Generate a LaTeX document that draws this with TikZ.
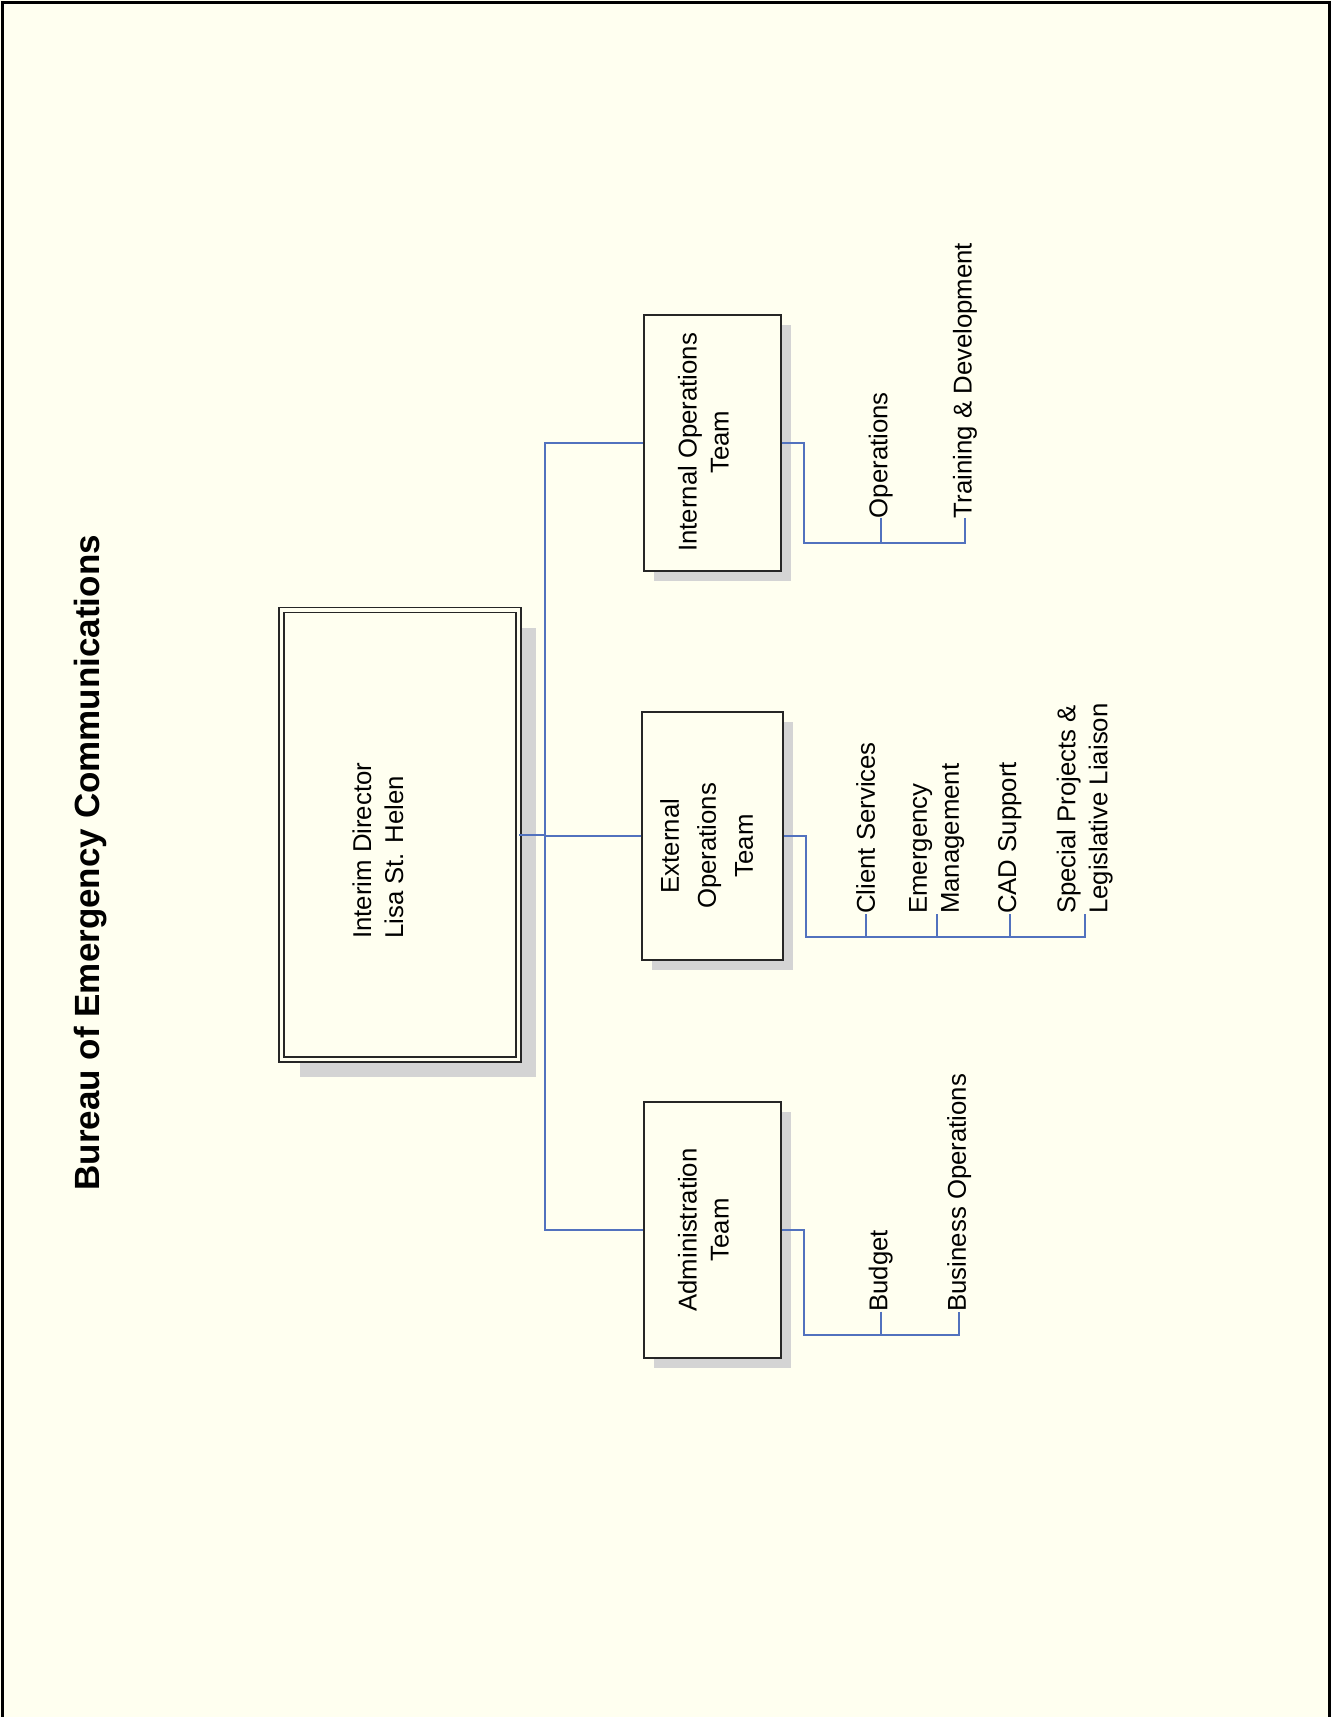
\documentclass[tikz,border=0pt]{standalone}
\usepackage{fontspec}
\setmainfont{Liberation Sans}
\usetikzlibrary{shadows,calc}
\definecolor{paper}{RGB}{255,255,240}
\definecolor{shade}{RGB}{212,212,212}
\definecolor{linkblue}{RGB}{82,114,190}

\begin{document}
\begin{tikzpicture}[
    x=1pt, y=-1pt,
    team/.style={draw=black!85, fill=paper, line width=1.8pt, inner sep=0pt,
      minimum width=136.7pt, minimum height=256pt,
      drop shadow={shadow xshift=10pt, shadow yshift=-10pt, fill=shade, opacity=1}},
    head/.style={draw=black!85, fill=paper, line width=1.6pt, double=paper, double distance=3.6pt,
      inner sep=0pt, minimum width=236.7pt, minimum height=449.4pt,
      drop shadow={shadow xshift=18pt, shadow yshift=-18pt, fill=shade, opacity=1}},
    boxtext/.style={rotate=90, align=center, inner sep=0pt, font=\fontsize{25.75}{32}\selectfont},
    unit/.style={rotate=90, anchor=west, align=left, inner sep=0pt, font=\fontsize{25.75}{32}\selectfont},
    link/.style={draw=linkblue, line width=2pt}
  ]
  \useasboundingbox (0,0) rectangle (1331,1717);
  \fill[paper] (0,0) rectangle (1331,1717);
  \draw[line width=2.2pt] (2.5,1717) |- (1329.5,2.5) -- (1329.5,1717);

  % Title
  \node[rotate=90, inner sep=0pt, font=\fontsize{35}{40}\selectfont\bfseries] (title) at (90.5,862.7)
    {Bureau of Emergency Communications};

  % Director and teams
  \node[head] (dir) at (400,834.7) {};
  \node[boxtext, align=left] (dirtxt) at (378,850.7) {Interim Director\\Lisa St. Helen};

  \node[team] (int) at (712.3,443) {};
  \node[boxtext] (inttxt) at (703.3,442.3) {Internal Operations\\Team};
  \node[team, minimum width=140.7pt, minimum height=247.7pt] (ext) at (712.7,836.2) {};
  \node[boxtext, font=\fontsize{25.75}{37}\selectfont] (exttxt) at (706.7,846) {External\\Operations\\Team};
  \node[team, minimum height=256.6pt] (adm) at (712.3,1230) {};
  \node[boxtext] (admtxt) at (703.3,1230) {Administration\\Team};

  % Units under each team
  \node[unit] (ops) at (880.7,518.3) {Operations};
  \node[unit] (train) at (965,518.3) {Training \& Development};

  \node[unit] (client) at (865.7,914) {Client Services};
  \node[unit] (emerg) at (936.7,914) {Emergency\\Management};
  \node[unit] (cad) at (1009.7,914) {CAD Support};
  \node[unit] (special) at (1084.7,914) {Special Projects \&\\Legislative Liaison};

  \node[unit] (budget) at (880.7,1311.7) {Budget};
  \node[unit] (busops) at (959.3,1311.7) {Business Operations};

  \coordinate (trunk) at (545,0);
  \coordinate (ibus) at (804,543);
  \coordinate (ebus) at (806.3,937.3);
  \coordinate (abus) at (804,1335);

  % Connectors
  \draw[link] (int.west) -- (int.west -| trunk) -- (adm.west -| trunk) -- (adm.west);
  \draw[link] (dir.east) -- (dir.east -| trunk);
  \draw[link] (ext.west) -- (ext.west -| trunk);

  \draw[link] (int.east) -| (ibus) -- (train.west |- ibus) -- (train.west);
  \draw[link] (ops.west) -- (ops.west |- ibus);

  \draw[link] (ext.east) -| (ebus) -- (special.west |- ebus) -- (special.west);
  \foreach \u in {client, emerg, cad}
    \draw[link] (\u.west) -- (\u.west |- ebus);

  \draw[link] (adm.east) -| (abus) -- (busops.west |- abus) -- (busops.west);
  \draw[link] (budget.west) -- (budget.west |- abus);
\end{tikzpicture}
\end{document}
